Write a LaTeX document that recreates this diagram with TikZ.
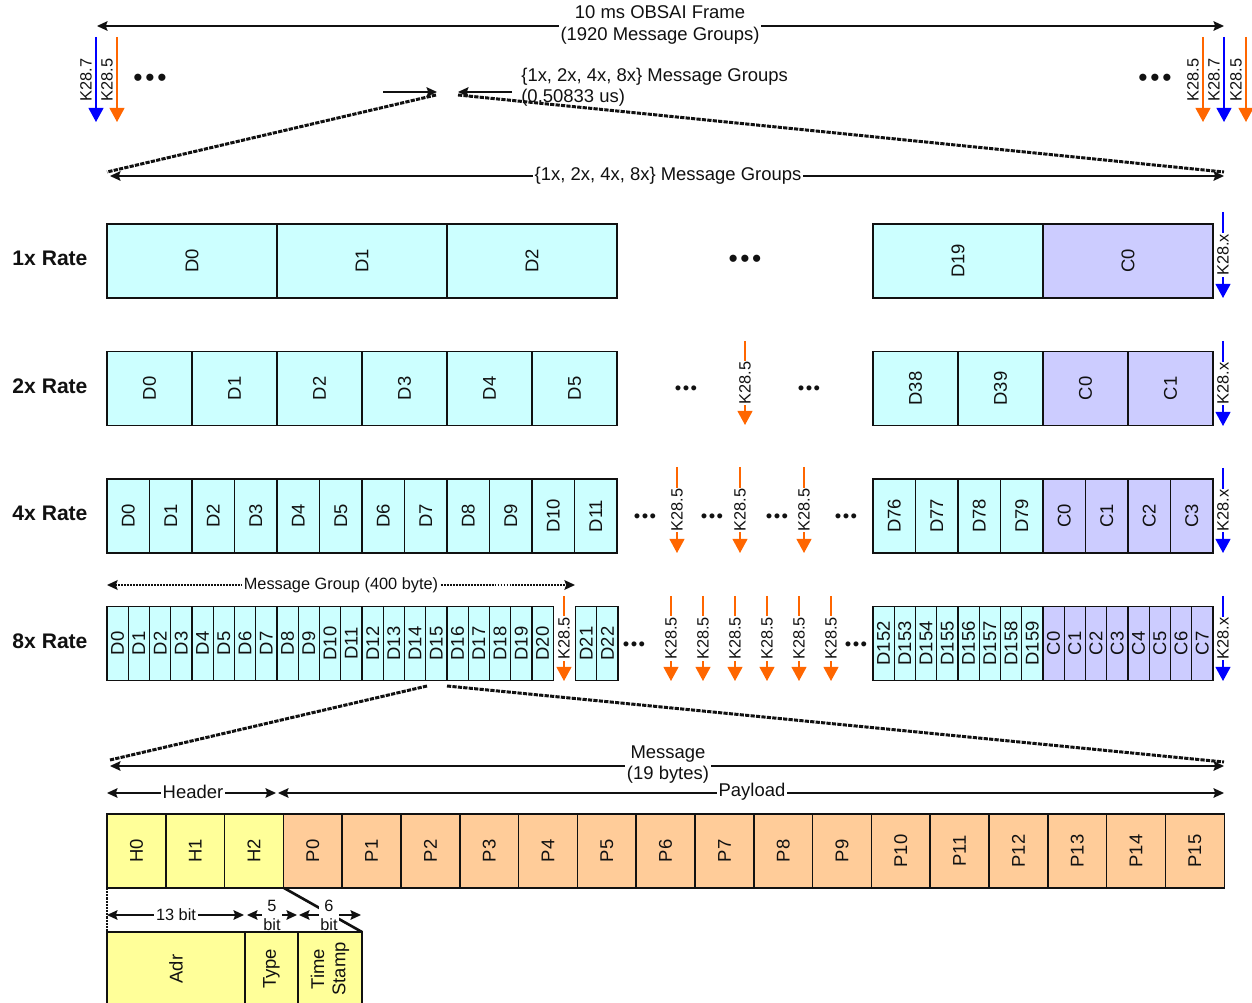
\documentclass[tikz,border=0pt]{standalone}
\usepackage{fontspec}
\setmainfont{Liberation Sans}
\usepackage{tikz}
\usetikzlibrary{arrows.meta,positioning,calc}
\definecolor{CellData}{HTML}{CCFFFF}
\definecolor{CellCtrl}{HTML}{CCCCFF}
\definecolor{CellHead}{HTML}{FFFF99}
\definecolor{CellPay}{HTML}{FFCC99}
\definecolor{KOrange}{HTML}{FF6600}
\definecolor{KBlue}{HTML}{0000FF}
\definecolor{FrameInk}{HTML}{111111}
\tikzset{
  figlabel/.style={font=\fontsize{10.5}{12}\selectfont, text=FrameInk},
  figsmall/.style={font=\fontsize{9.3}{10.8}\selectfont, text=FrameInk},
  ratelabel/.style={font=\bfseries\fontsize{12}{14}\selectfont, text=FrameInk},
  cellbox/.style={draw=FrameInk, line width=0.8pt, rotate=90, inner sep=0pt, minimum width=1.48cm, align=center},
  datacell/.style={cellbox, fill=CellData},
  ctrlcell/.style={cellbox, fill=CellCtrl},
  headcell/.style={cellbox, fill=CellHead},
  paycell/.style={cellbox, fill=CellPay},
  kmark/.style={-{Triangle[width=8.5pt,length=8pt]}, line width=0.8pt},
  kfive/.style={kmark, draw=KOrange},
  kblue/.style={kmark, draw=KBlue},
  klabel/.style={figsmall, rotate=90, fill=white, inner sep=0.6pt},
  ksideway/.style={figsmall, rotate=90, inner sep=0pt},
  dimarrow/.style={{Stealth[length=6pt,width=5.5pt,inset=1pt]}-{Stealth[length=6pt,width=5.5pt,inset=1pt]}, line width=0.8pt, draw=FrameInk},
  onearrow/.style={-{Stealth[length=6pt,width=5.5pt,inset=1pt]}, line width=0.8pt, draw=FrameInk},
  dotarrow/.style={dimarrow, line width=1.1pt, dash pattern=on 1.1pt off 0.6pt},
  zoomline/.style={line width=1.7pt, draw=FrameInk, dash pattern=on 2.4pt off 0.7pt},
  onlabel/.style={fill=white, inner sep=1pt, align=center},
  bigdots/.style={font=\fontsize{15}{15}\selectfont, inner sep=0pt},
  smalldots/.style={font=\fontsize{10.5}{10.5}\selectfont, inner sep=0pt}
}

\begin{document}
\begin{tikzpicture}[x=0.02cm, y=-0.02cm, every node/.style={figlabel}]
\useasboundingbox (0,0) rectangle (1252,1003);
\clip (0,0) rectangle (1252,1003);

% 10 ms frame
\coordinate (frmL) at (97,26);
\coordinate (frmR) at (1224,26);
\draw[dimarrow] (frmL) -- (frmR);
\node[onlabel] (frame) at (660,25) {10 ms OBSAI Frame\\(1920 Message Groups)};

% frame start and end markers
\coordinate (fk7T) at (96,37);   \coordinate (fk7B) at (96,122);
\coordinate (fk5T) at (117,37);  \coordinate (fk5B) at (117,122);
\draw[kblue] (fk7T) -- (fk7B);
\draw[kfive] (fk5T) -- (fk5B);
\node[ksideway] (fk7lbl) at (86,80) {K28.7};
\node[ksideway] (fk5lbl) at (107,80) {K28.5};
\node[bigdots] (fdotsL) at (150,80) {•\hspace{1.6pt}•\hspace{1.6pt}•};
\coordinate (ek5T) at (1203,37);  \coordinate (ek5B) at (1203,122);
\coordinate (ek7T) at (1224,37);  \coordinate (ek7B) at (1224,122);
\coordinate (ek5bT) at (1246,37); \coordinate (ek5bB) at (1246,122);
\draw[kfive] (ek5T) -- (ek5B);
\draw[kblue] (ek7T) -- (ek7B);
\draw[kfive] (ek5bT) -- (ek5bB);
\node[ksideway] (ek5lbl) at (1193,80) {K28.5};
\node[ksideway] (ek7lbl) at (1214,80) {K28.7};
\node[ksideway] (ek5blbl) at (1236,80) {K28.5};
\node[bigdots] (fdotsR) at (1155,80) {•\hspace{1.6pt}•\hspace{1.6pt}•};

% one message group slot
\coordinate (mgA1) at (383,92); \coordinate (mgA2) at (437,92);
\coordinate (mgB1) at (512,92); \coordinate (mgB2) at (458,92);
\draw[onearrow] (mgA1) -- (mgA2);
\draw[onearrow] (mgB1) -- (mgB2);
\coordinate (zt1) at (436,95); \coordinate (zb1) at (107,172);
\coordinate (zt2) at (458,95); \coordinate (zb2) at (1224,172);
\draw[zoomline] (zt1) -- (zb1);
\draw[zoomline] (zt2) -- (zb2);
\node[anchor=west, align=left, inner sep=0pt] (mgtxt) at (521,87) {\{1x, 2x, 4x, 8x\} Message Groups\\(0.50833 us)};

\coordinate (grpL) at (110,176);
\coordinate (grpR) at (1224,176);
\draw[dimarrow] (grpL) -- (grpR);
\node[onlabel] (grp) at (668,176) {\{1x, 2x, 4x, 8x\} Message Groups};

% rate labels
\node[ratelabel] (rate1) at (50,258) {1x Rate};
\node[ratelabel] (rate2) at (50,386) {2x Rate};
\node[ratelabel] (rate4) at (50,513) {4x Rate};
\node[ratelabel] (rate8) at (50,641) {8x Rate};

% 1x row
\foreach \i in {0,1,2}
  \node[datacell, minimum height=3.4cm] (r1d\i) at ({192+170*\i},261) {D\i};
\node[datacell, minimum height=3.4cm] (r1d19) at (958,261) {D19};
\node[ctrlcell, minimum height=3.4cm] (r1c0) at (1128,261) {C0};
\node[bigdots] (r1dots) at (745,261) {•\hspace{1.4pt}•\hspace{1.4pt}•};
\coordinate (r1kT) at (1223,212); \coordinate (r1kB) at (1223,298);
\draw[kblue] (r1kT) -- node[klabel] (r1klbl) {K28.x} (r1kB);

% 2x row
\foreach \i in {0,...,5}
  \node[datacell, minimum height=1.7cm] (r2d\i) at ({149.5+85*\i},388.5) {D\i};
\node[datacell, minimum height=1.7cm] (r2d38) at (915.5,388.5) {D38};
\node[datacell, minimum height=1.7cm] (r2d39) at (1000.5,388.5) {D39};
\node[ctrlcell, minimum height=1.7cm] (r2c0) at (1085.5,388.5) {C0};
\node[ctrlcell, minimum height=1.7cm] (r2c1) at (1170.5,388.5) {C1};
\node[smalldots] (r2dotsA) at (686,390) {•\hspace{0.8pt}•\hspace{0.8pt}•};
\node[smalldots] (r2dotsB) at (809,390) {•\hspace{0.8pt}•\hspace{0.8pt}•};
\coordinate (r2k5T) at (745,341); \coordinate (r2k5B) at (745,425);
\draw[kfive] (r2k5T) -- node[klabel] (r2k5lbl) {K28.5} (r2k5B);
\coordinate (r2kT) at (1223,341); \coordinate (r2kB) at (1223,426);
\draw[kblue] (r2kT) -- node[klabel] (r2klbl) {K28.x} (r2kB);

% 4x row
\foreach \i in {0,...,11}
  \node[datacell, minimum height=0.85cm] (r4d\i) at ({128.25+42.5*\i},516) {D\i};
\foreach \j in {0,...,3} {
  \pgfmathtruncatemacro\n{76+\j}
  \node[datacell, minimum height=0.85cm] (r4d\n) at ({894.25+42.5*\j},516) {D\n};
  \node[ctrlcell, minimum height=0.85cm] (r4c\j) at ({1064.25+42.5*\j},516) {C\j};
}
\foreach \x [count=\k] in {645,712,777,846}
  \node[smalldots] (r4dots\k) at (\x,518) {•\hspace{0.8pt}•\hspace{0.8pt}•};
\foreach \x [count=\k] in {677,740,804} {
  \coordinate (r4k5T\k) at (\x,467); \coordinate (r4k5B\k) at (\x,553);
  \draw[kfive] (r4k5T\k) -- node[klabel] (r4k5lbl\k) {K28.5} (r4k5B\k);
}
\coordinate (r4kT) at (1223,468); \coordinate (r4kB) at (1223,553);
\draw[kblue] (r4kT) -- node[klabel] (r4klbl) {K28.x} (r4kB);

% 8x row
\coordinate (mgrpL) at (107,585);
\coordinate (mgrpR) at (575,585);
\draw[dotarrow] (mgrpL) -- (mgrpR);
\node[onlabel, figsmall] (mgrp) at (341,585) {Message Group (400 byte)};
\foreach \i in {0,...,20}
  \node[datacell, minimum height=0.425cm] (r8d\i) at ({117.625+21.25*\i},643.5) {D\i};
\node[datacell, minimum height=0.425cm] (r8d21) at (586.1,643.5) {D21};
\node[datacell, minimum height=0.425cm] (r8d22) at (607.4,643.5) {D22};
\foreach \j in {0,...,7} {
  \pgfmathtruncatemacro\n{152+\j}
  \node[datacell, minimum height=0.425cm] (r8d\n) at ({883.625+21.25*\j},643.5) {D\n};
  \node[ctrlcell, minimum height=0.425cm] (r8c\j) at ({1053.625+21.25*\j},643.5) {C\j};
}
\node[smalldots] (r8dotsA) at (634,646) {•\hspace{0.8pt}•\hspace{0.8pt}•};
\node[smalldots] (r8dotsB) at (856,646) {•\hspace{0.8pt}•\hspace{0.8pt}•};
\foreach \x [count=\k] in {564,671,703,735,767,799,831} {
  \coordinate (r8k5T\k) at (\x,596); \coordinate (r8k5B\k) at (\x,681);
  \draw[kfive] (r8k5T\k) -- node[klabel] (r8k5lbl\k) {K28.5} (r8k5B\k);
}
\coordinate (r8kT) at (1223,596); \coordinate (r8kB) at (1223,681);
\draw[kblue] (r8kT) -- node[klabel] (r8klbl) {K28.x} (r8kB);

% one message
\coordinate (zt3) at (427,686); \coordinate (zb3) at (110,760);
\coordinate (zt4) at (447,686); \coordinate (zb4) at (1224,762);
\draw[zoomline] (zt3) -- (zb3);
\draw[zoomline] (zt4) -- (zb4);
\coordinate (msgL) at (110,766);
\coordinate (msgR) at (1224,766);
\draw[dimarrow] (msgL) -- (msgR);
\node[onlabel] (msg) at (668,765) {Message\\(19 bytes)};
\coordinate (hdrL) at (107,793); \coordinate (hdrR) at (276,793);
\coordinate (payL) at (278,793); \coordinate (payR) at (1224,793);
\draw[dimarrow] (hdrL) -- (hdrR);
\draw[dimarrow] (payL) -- (payR);
\node[onlabel] (hdr) at (193,792) {Header};
\node[onlabel] (pay) at (752,792) {Payload};
\foreach \i in {0,1,2}
  \node[headcell, minimum height=1.176cm] (mh\i) at ({136.4+58.8*\i},851) {H\i};
\foreach \j in {0,...,15}
  \node[paycell, minimum height=1.176cm] (mp\j) at ({312.8+58.8*\j},851) {P\j};

% header fields
\coordinate (hfL) at (107,888); \coordinate (hfLb) at (107,931);
\coordinate (hfR) at (284,888); \coordinate (hfRb) at (362,932);
\draw[zoomline, dash pattern=on 1.2pt off 0.6pt] (hfL) -- (hfLb);
\draw[line width=1.5pt, draw=FrameInk] (hfR) -- (hfRb);
\coordinate (b13L) at (107,915); \coordinate (b13R) at (244,915);
\coordinate (b5L) at (247,915);  \coordinate (b5R) at (297,915);
\coordinate (b6L) at (299,915);  \coordinate (b6R) at (361,915);
\draw[dimarrow] (b13L) -- (b13R);
\draw[dimarrow] (b5L) -- (b5R);
\draw[dimarrow] (b6L) -- (b6R);
\node[onlabel, figsmall] (b13) at (176,915) {13 bit};
\node[onlabel, figsmall, inner sep=0.5pt] (b5) at (272,915) {5\\bit};
\node[onlabel, figsmall, inner sep=0.5pt] (b6) at (329,915) {6\\bit};
\node[headcell, minimum height=2.76cm] (fadr) at (176,969) {Adr};
\node[headcell, minimum height=1.06cm] (ftype) at (271.5,969) {Type};
\node[headcell, minimum height=1.28cm] (fts) at (330,969) {Time\\Stamp};
\end{tikzpicture}
\end{document}
